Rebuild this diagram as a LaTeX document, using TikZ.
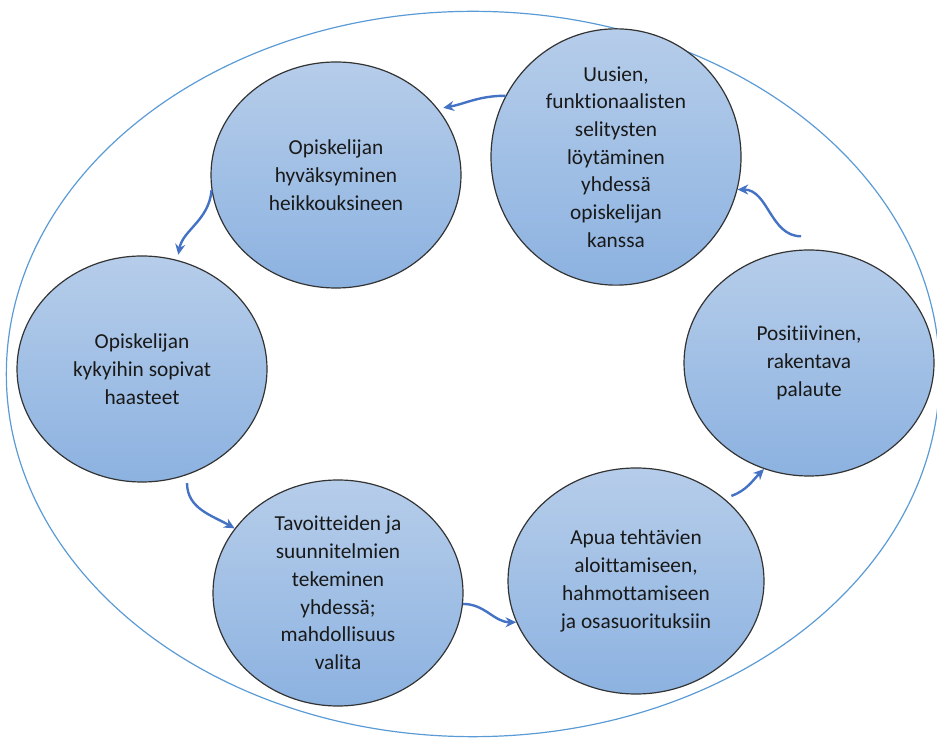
\documentclass[tikz,border=0pt]{standalone}
\usepackage{fontspec}
\setmainfont{Carlito}[Ligatures=NoCommon]
\usetikzlibrary{arrows.meta,shapes.geometric}
\definecolor{ringblue}{RGB}{91,155,213}
\definecolor{arrowblue}{RGB}{68,114,196}
\definecolor{stagetop}{RGB}{182,205,234}
\definecolor{stagebot}{RGB}{140,178,224}
\tikzstyle{stage}=[ellipse,draw=black!80,line width=0.9pt,
  top color=stagetop,bottom color=stagebot,
  minimum width=187.5pt,minimum height=169.5pt,inner sep=0pt,
  align=center,text=black!90,font=\fontsize{16}{20.8}\selectfont]
\tikzstyle{flow}=[->,draw=arrowblue,line width=1.8pt]

\begin{document}
\begin{tikzpicture}[x=0.75pt,y=0.75pt,>={Stealth[length=8pt,width=7.5pt]}]
  \useasboundingbox (0,0) rectangle (937,738);
  \node[ellipse,draw=ringblue,line width=0.9pt,minimum width=700pt,
        minimum height=544pt,inner sep=0pt] (ring) at (473,364) {};

  % the six stages of the cycle
  \node[stage] (accept) at (336,563) {Opiskelijan\\hyväksyminen\\heikkouksineen};
  \node[stage] (ideas) at (616,581) {Uusien,\\funktionaalisten\\selitysten\\löytäminen\\yhdessä\\opiskelijan\\kanssa};
  \node[stage] (challenge) at (142,369) {Opiskelijan\\kykyihin sopivat\\haasteet};
  \node[stage] (feedback) at (809,375) {Positiivinen,\\rakentava\\palaute};
  \node[stage] (goals) at (338,145) {Tavoitteiden ja\\suunnitelmien\\tekeminen\\yhdessä;\\mahdollisuus\\valita};
  \node[stage,minimum width=192pt] (helping) at (636,157) {Apua tehtävien\\aloittamiseen,\\hahmottamiseen\\ja osasuorituksiin};

  % arrows between the stages
  \draw[flow,shorten >=4pt] (ideas.151) to[out=180,in=10] (accept.33);
  \draw[flow,shorten >=4pt] (accept.187) to[out=-95,in=80] (challenge.72);
  \draw[flow] ([yshift=-6pt]challenge.293) to[out=-90,in=150] (goals.148);
  \draw[flow] (goals.355) to[out=0,in=180] (helping.199);
  \draw[flow] ([xshift=4pt,yshift=3pt]helping.42) to[out=20,in=225] (feedback.247);
  \draw[flow] ([yshift=10pt]feedback.94) to[out=180,in=0] (ideas.345);
\end{tikzpicture}
\end{document}
